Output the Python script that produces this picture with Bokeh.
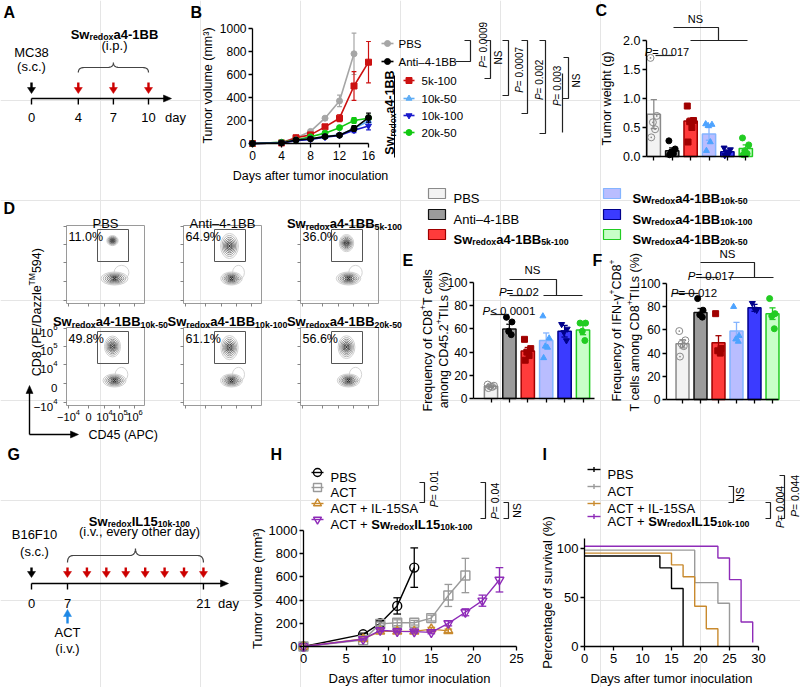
import math
from bokeh.plotting import figure
from bokeh.models import Range1d, FixedTicker, NumeralTickFormatter, LinearAxis
from bokeh.core.properties import value
from bokeh.embed import file_html
from bokeh.resources import INLINE

FONT = "Liberation Sans"
W, H = 800, 687

# ------------------------------------------------------------------ data
GROUPS = ["PBS", "Anti–4-1BB", "5k-100", "10k-50", "10k-100", "20k-50"]

A_ticks = [0, 4, 7, 10]
A_inoc = [0]
A_doses = [4, 7, 10]

B_days = [0, 4, 6, 8, 10, 12, 14, 16]
B_pbs = [0, 10, 50, 105, 220, 370, 780]
B_pbs_err = [0, 3, 8, 10, 15, 50, 180]
B_anti = [0, 5, 30, 40, 60, 72, 130, 225]
B_anti_err = [0, 2, 5, 5, 8, 10, 25, 40]
B_5k100 = [0, 5, 50, 75, 145, 220, 500, 707]
B_5k100_err = [0, 2, 6, 10, 12, 30, 125, 180]
B_10k50 = [0, 5, 30, 40, 60, 75, 130, 196]
B_10k50_err = [0, 2, 5, 5, 8, 10, 20, 30]
B_10k100 = [0, 5, 25, 35, 55, 70, 115, 153]
B_10k100_err = [0, 2, 4, 5, 8, 8, 20, 35]
B_20k50 = [0, 10, 30, 58, 90, 138, 200, 220]
B_20k50_err = [0, 2, 5, 6, 10, 12, 25, 25]
B_pvals = ["P = 0.0009", "NS", "P = 0.0007", "P = 0.002", "P = 0.003"]

C_mean = [0.73, 0.10, 0.61, 0.39, 0.08, 0.14]
C_sem = [0.25, 0.05, 0.05, 0.11, 0.03, 0.06]
C_points = [
    [1.70, 0.70, 0.59, 0.47, 0.33],
    [0.27, 0.13, 0.08, 0.05, 0.03],
    [0.87, 0.62, 0.60, 0.50, 0.25],
    [0.56, 0.55, 0.53, 0.25, 0.10],
    [0.15, 0.12, 0.08, 0.05, 0.02],
    [0.32, 0.20, 0.10, 0.05, 0.03],
]

D_pct = [11.0, 64.9, 36.0, 49.8, 61.1, 56.6]
D_ylab = [("10", "6"), ("10", "5"), ("10", "4"), ("0", ""), ("−10", "4")]
D_xlab = [("−10", "4"), ("0", ""), ("10", "4"), ("10", "5"), ("10", "6")]

E_mean = [10.5, 60, 41, 50, 58, 59]
E_sem = [1, 4, 3, 6.5, 5, 4]
E_points = [
    [12, 11, 10.5, 10, 9],
    [70, 66, 58, 55],
    [51, 43, 40, 37, 33],
    [71, 52, 45, 44, 35],
    [64, 60, 57, 50],
    [65, 65, 58, 50],
]

F_mean = [48, 75, 49, 59, 79, 74]
F_sem = [3.5, 3.5, 6, 7.5, 3, 5]
F_points = [
    [59, 51, 48, 46, 37],
    [87, 77, 73, 71],
    [74, 44, 42, 40],
    [80, 55, 52, 50],
    [83, 78, 77],
    [87, 74, 72, 61],
]

G_ticks = [0, 7, 21]
G_inoc = [0]
G_doses = [7, 9, 11, 13, 15, 17, 19, 21]
G_act = [7]

H_pbs_days = [0, 7, 9, 11, 13]
H_pbs = [0, 105, 200, 350, 680]
H_pbs_err = [0, 10, 20, 70, 170]
H_act_days = [0, 7, 9, 11, 13, 15, 17, 19]
H_act = [0, 55, 195, 205, 205, 245, 440, 612]
H_act_err = [0, 8, 15, 25, 20, 25, 95, 148]
H_il_days = [0, 7, 9, 11, 13, 15, 17]
H_il = [0, 65, 130, 130, 130, 150, 135]
H_il_err = [0, 8, 15, 12, 12, 15, 15]
H_sw_days = [0, 7, 9, 11, 13, 15, 17, 19, 21, 23]
H_sw = [0, 63, 140, 130, 128, 122, 200, 295, 395, 575]
H_sw_err = [0, 8, 12, 12, 12, 12, 22, 30, 48, 105]

I_pbs_days = [0, 13, 15, 17]
I_pbs = [92, 80, 59, 0]
I_act_days = [0, 19, 23, 25]
I_act = [98, 65, 44, 0]
I_il_days = [0, 15, 17, 19, 21, 23]
I_il = [95, 83, 71, 41, 18, 0]
I_sw_days = [0, 23, 25, 27, 29]
I_sw = [102, 90, 68, 25, 4]

# ------------------------------------------------------------------ styles
FILL = ["#f2f2f2", "#9b9b9b", "#ff3b3b", "#b9bdff", "#3b3bff", "#c8ffc8"]
EDGE = ["#8a8a8a", "#111111", "#a00000", "#84b4ff", "#00008b", "#22cc22"]
PT_COL = ["#8a8a8a", "#000000", "#a00000", "#4da3ff", "#00008b", "#22cc22"]
PT_MK = ["circle_dot", "circle", "square", "triangle", "inverted_triangle", "circle"]
JIT = {5: [-0.18, 0.16, -0.05, 0.07, -0.14], 4: [-0.16, 0.14, -0.04, 0.1], 3: [-0.12, 0.0, 0.12]}
B_COL = ["#a6a6a6", "#000000", "#cc1111", "#5fadf5", "#1a1acc", "#11c811"]
B_MK = ["circle", "circle", "square", "triangle", "inverted_triangle", "circle"]
H_COL = ["#000000", "#9a9a9a", "#c98a2e", "#8e2bb8"]
H_MK = ["circle", "square", "triangle", "inverted_triangle"]

REG = {c: 556 for c in "0123456789"}
REG.update({' ': 278, '%': 889, '(': 333, ')': 333, '+': 584, ',': 278, '-': 333, '.': 278,
            '/': 278, '<': 584, '=': 584, '–': 556, '−': 584, 'γ': 500,
            'A': 667, 'B': 667, 'C': 722, 'D': 722, 'E': 667, 'F': 611, 'G': 778, 'H': 722,
            'I': 278, 'L': 556, 'M': 833, 'N': 722, 'O': 778, 'P': 667, 'S': 667, 'T': 611,
            'Z': 611, 'a': 556, 'b': 556, 'c': 500, 'd': 556, 'e': 556, 'f': 278, 'g': 556,
            'h': 556, 'i': 222, 'k': 500, 'l': 222, 'm': 833, 'n': 556, 'o': 556, 'p': 556,
            'q': 556, 'r': 333, 's': 500, 't': 278, 'u': 556, 'v': 500, 'w': 722, 'x': 500,
            'y': 500, 'z': 500})
BLD = dict(REG)
BLD.update({'A': 722, 'B': 722, 'C': 722, 'I': 278, 'L': 611, 'S': 667, 'T': 611, 'a': 556,
            'd': 611, 'e': 556, 'k': 556, 'o': 611, 'r': 389, 'w': 778, 'x': 556, 'y': 556})


def tw(s, size, bold=False):
    t = BLD if bold else REG
    return sum(t.get(c, 556) for c in s) * size / 1000.0


SW = [("Sw", True, "n"), ("redox", True, "sub")]
SWA = SW + [("a4-1BB", True, "n")]

# ------------------------------------------------------------------ one canvas, ref-pixel default ranges
p = figure(width=W, height=H, x_range=Range1d(0, W), y_range=Range1d(H, 0),
           min_border=0, x_axis_location=None, y_axis_location=None,
           output_backend="svg", toolbar_location=None, tools="", title=None)
p.outline_line_color = None
p.background_fill_color = "white"

XR, YR = {}, {}


def chart(name, pxa, pxb, xa, xb, pya, pyb, ya, yb):
    kx = (xb - xa) / (pxb - pxa)
    ky = (yb - ya) / (pyb - pya)
    XR[name] = Range1d(xa - pxa * kx, xa + (W - pxa) * kx)
    YR[name] = Range1d(ya + (H - pya) * ky, ya - pya * ky)
    return dict(x_range_name=name, y_range_name=name)


def axis(name, side, ticks, bounds, fixed, fs=12, blank=False, fmt=None, standoff=2):
    ax = LinearAxis(x_range_name=name, y_range_name=name, ticker=FixedTicker(ticks=ticks),
                    bounds=bounds, fixed_location=fixed)
    ax.axis_line_color = "#000000"
    ax.axis_line_width = 1.3
    ax.major_tick_line_color = "#000000"
    ax.major_tick_line_width = 1.3
    ax.major_tick_out = 4
    ax.major_tick_in = 0
    ax.minor_tick_line_color = None
    ax.major_label_text_font = FONT
    ax.major_label_text_font_size = f"{fs}px"
    ax.major_label_text_color = "#000000"
    ax.major_label_standoff = standoff
    if blank:
        ax.major_label_overrides = {t: "" for t in ticks}
    if fmt is not None:
        ax.formatter = fmt
    p.add_layout(ax, side)


def txt(px, py, s, size=12, bold=False, italic=False, color="#000000", align="center", angle=0.0):
    style = "bold" if bold else ("italic" if italic else "normal")
    p.text(x=[px], y=[py], text=[s], text_font=value(FONT), text_font_size=f"{size}px",
           text_font_style=style, text_color=color, text_align=align, text_baseline="middle",
           angle=angle, level="annotation")


def rich(px, py, segs, size=12, align="center", angle=0.0, color="#000000"):
    items = []
    tot = 0.0
    for s, b, k in segs:
        fs = size * 0.68 if k in ("sub", "sup") else size
        items.append((s, b, k, fs, tot))
        tot += tw(s, fs, b)
    start = {"left": 0.0, "center": -tot / 2.0, "right": -tot}[align]
    ca, sa = math.cos(angle), math.sin(angle)
    xo, yo, tx, fsz, fst = [], [], [], [], []
    for s, b, k, fs, adv in items:
        d = start + adv
        sh = 0.35 * size + (0.24 * size if k == "sub" else (-0.40 * size if k == "sup" else 0.0))
        xo.append(d * ca + sh * sa)
        yo.append(-d * sa + sh * ca)
        tx.append(s)
        fsz.append(f"{fs:.1f}px")
        fst.append("bold" if b else ("italic" if k == "it" else "normal"))
    n = len(tx)
    p.text(x=[px] * n, y=[py] * n, text=tx, x_offset=xo, y_offset=yo,
           text_font=value(FONT), text_font_size=fsz, text_font_style=fst,
           text_color=color, text_align="left", text_baseline="alphabetic",
           angle=angle, level="annotation")


def ptxt(px, py, s, size=11, angle=0.0):
    if s.startswith("P"):
        rich(px, py, [("P", False, "it"), (s[1:], False, "n")], size, angle=angle)
    else:
        txt(px, py, s, size, angle=angle)


def lines(polys, color="#222222", width=1.2):
    p.multi_line(xs=[[a for a, b in pl] for pl in polys], ys=[[b for a, b in pl] for pl in polys],
                 line_color=color, line_width=width, level="annotation")


def tri(pts, color):
    p.patch(x=[a for a, b in pts], y=[b for a, b in pts], fill_color=color,
            line_color=color, line_width=0.5, level="annotation")


def brace(x0, x1, ytip, yend, color="#444444"):
    xm = (x0 + x1) / 2.0
    ym = (ytip + yend) / 2.0
    r = 6.0

    def qb(p0, c, p1, n=8):
        out = []
        for i in range(n + 1):
            t = i / n
            out.append(((1 - t) ** 2 * p0[0] + 2 * (1 - t) * t * c[0] + t * t * p1[0],
                        (1 - t) ** 2 * p0[1] + 2 * (1 - t) * t * c[1] + t * t * p1[1]))
        return out
    pts = (qb((x0, yend), (x0, ym), (x0 + r, ym)) + qb((xm - r, ym), (xm, ym), (xm, ytip)) +
           qb((xm, ytip), (xm, ym), (xm + r, ym)) + qb((x1 - r, ym), (x1, ym), (x1, yend)))
    lines([pts], color, 1.2)


def down_arrows(xs, ytop, ybot, color):
    for x in xs:
        lines([[(x, ytop), (x, ybot - 5)]], color, 2.4)
        tri([(x - 4, ybot - 6), (x + 4, ybot - 6), (x, ybot)], color)


def bar_panel(r, means, sems, pts, width=0.72, psize=6, cap=0.17):
    xs = list(range(len(means)))
    p.vbar(x=xs, top=means, bottom=0, width=width, fill_color=FILL, line_color=EDGE,
           line_width=1.5, **r)
    for i, m in enumerate(means):
        s = sems[i]
        p.segment(x0=[i, i - cap, i - cap], y0=[m - s, m + s, m - s],
                  x1=[i, i + cap, i + cap], y1=[m + s, m + s, m - s],
                  line_color=EDGE[i], line_width=1.3, **r)
        js = JIT[len(pts[i])]
        xp = [i + j for j in js]
        if PT_MK[i] == "circle_dot":
            p.scatter(xp, pts[i], marker="circle_dot", size=psize + 1, fill_color=None,
                      line_color=PT_COL[i], line_width=1.0, **r)
        else:
            p.scatter(xp, pts[i], marker=PT_MK[i], size=psize, fill_color=PT_COL[i],
                      line_color=PT_COL[i], **r)


def err_line(r, d, v, e, c, cap, lw=1.3):
    ed = [(dd, vv, ee) for dd, vv, ee in zip(d, v, e) if ee > 0]
    xs = [a for a, _, _ in ed]
    lo = [b - q for _, b, q in ed]
    hi = [b + q for _, b, q in ed]
    p.segment(xs, lo, xs, hi, line_color=c, line_width=lw, **r)
    p.segment([a - cap for a in xs], hi, [a + cap for a in xs], hi, line_color=c, line_width=lw, **r)
    p.segment([a - cap for a in xs], lo, [a + cap for a in xs], lo, line_color=c, line_width=lw, **r)


# ------------------------------------------------------------------ A (schematic)
txt(3, 12, "A", 16, bold=True, align="left")
rich(114, 29, SWA, 13)
txt(114, 45, "(i.p.)", 13)
txt(31, 52, "MC38", 13)
txt(31, 66, "(s.c.)", 13)


def apos(d):
    return 31 + 11.7 * d


brace(apos(4), apos(10), 62, 72)
down_arrows([apos(d) for d in A_inoc], 82, 93, "#000000")
down_arrows([apos(d) for d in A_doses], 82, 93, "#cc0000")
lines([[(apos(0), 98), (164, 98)]], "#000000", 1.4)
tri([(163, 94.5), (163, 101.5), (171, 98)], "#000000")
for d in A_ticks:
    lines([[(apos(d), 98), (apos(d), 104)]], "#000000", 1.4)
    txt(apos(d), 117, str(d), 13)
txt(175, 117, "day", 13)

# ------------------------------------------------------------------ B
rB = chart("B", 252, 368, 0, 16, 143, 28, 0, 1000)
axis("B", "below", [0, 4, 8, 12, 16], (0, 16), 0, fs=12, standoff=3)
axis("B", "left", [0, 200, 400, 600, 800, 1000], (0, 1000), 0, fs=12)
txt(190, 12, "B", 16, bold=True, align="left")
txt(310, 175, "Days after tumor inoculation", 12.5)
txt(207, 85, "Tumor volume (mm³)", 12.5, angle=math.pi / 2)

B_vals = [B_pbs, B_anti, B_5k100, B_10k50, B_10k100, B_20k50]
B_errs = [B_pbs_err, B_anti_err, B_5k100_err, B_10k50_err, B_10k100_err, B_20k50_err]
for i in [0, 2, 5, 3, 4, 1]:
    v, e = B_vals[i], B_errs[i]
    d = B_days[:len(v)]
    c = B_COL[i]
    err_line(rB, d, v, e, c, 0.33, 1.2)
    p.line(d, v, line_color=c, line_width=1.6, **rB)
    p.scatter(d, v, marker=B_MK[i], size=6, fill_color=c, line_color=c, **rB)

B_LEG_Y = [43, 61, 80, 98, 115, 132]
for i in range(6):
    if i < 2:
        x0, x1, xt = 381, 393, 398
    else:
        x0, x1, xt = 403, 414, 421
    y = B_LEG_Y[i]
    lines([[(x0, y), (x1, y)]], B_COL[i], 1.6)
    p.scatter([(x0 + x1) / 2], [y], marker=B_MK[i], size=6, fill_color=B_COL[i],
              line_color=B_COL[i], level="annotation")
    txt(xt, y, GROUPS[i], 11.5, align="left")
rich(385, 112, SWA, 12.5, angle=math.pi / 2)
lines([[(394, 75), (394, 157)]], "#000000", 1.0)

B_BR_X = [470, 490, 508, 527, 545]
B_BR_BOT = [61, 78, 95, 113, 133]
B_BR_TICK = [15, 6, 6, 6, 6]
B_BR_TXT = [(479, 43), (498, 57), (515, 68), (535, 78), (553, 84)]
for k in range(5):
    x = B_BR_X[k]
    lines([[(x - 6, 40), (x, 40), (x, B_BR_BOT[k]), (x - B_BR_TICK[k], B_BR_BOT[k])]])
    ptxt(B_BR_TXT[k][0], B_BR_TXT[k][1], B_pvals[k], 10, angle=math.pi / 2)
lines([[(562, 73), (562, 132)], [(563, 57), (568, 57), (568, 98), (562, 98)]])
ptxt(576, 80, "NS", 10, angle=math.pi / 2)

# ------------------------------------------------------------------ C
rC = chart("C", 653.3, 745.3, 0, 5, 156, 40, 0, 2)
axis("C", "below", list(range(6)), (-0.397, 5.15), 0, blank=True)
axis("C", "left", [0, 0.5, 1.0, 1.5, 2.0], (0, 2), -0.397, fs=12.5, fmt=NumeralTickFormatter(format="0.0"))
txt(595, 10, "C", 16, bold=True, align="left")
txt(606, 98, "Tumor weight (g)", 12.5, angle=math.pi / 2)
bar_panel(rC, C_mean, C_sem, C_points)
ptxt(668, 48, "P = 0.017", 11)
lines([[(655, 55), (673, 55)]])
txt(695, 18, "NS", 11)
lines([[(673, 27), (718, 27), (718, 40)], [(690, 40), (747, 40)]])

# ------------------------------------------------------------------ D (flow plots)
txt(3, 208, "D", 16, bold=True, align="left")
D_LEFT = [66, 183, 300]
D_TOP = [225, 327]
D_TITLE_Y = [218.5, 316.5]
D_TITLES = [[("PBS", False, "n")], [("Anti–4-1BB", False, "n")],
            SWA + [("5k-100", True, "sub")], SWA + [("10k-50", True, "sub")],
            SWA + [("10k-100", True, "sub")], SWA + [("20k-50", True, "sub")]]
D_YT = [1, 19, 37, 56, 75]
D_XT = [2, 22, 38, 53, 68]
LEVELS = [1.0, 0.84, 0.69, 0.55, 0.42, 0.30, 0.19]
LCOL = ["#cfcfcf", "#b3b3b3", "#989898", "#7c7c7c", "#626262", "#4a4a4a", "#333333"]


def blob(cx, cy, w, h):
    n = len(LEVELS)
    p.ellipse(x=[cx] * n, y=[cy] * n, width=[w * s for s in LEVELS], height=[h * s for s in LEVELS],
              fill_color=None, line_color=LCOL, line_width=1.0)
    p.ellipse(x=[cx], y=[cy], width=[w * 0.1], height=[h * 0.1], fill_color="#333333",
              line_color=None)


for i in range(6):
    r, c = divmod(i, 3)
    fx, fy = D_LEFT[c], D_TOP[r]
    p.quad(left=[fx], right=[fx + 78], top=[fy], bottom=[fy + 78], fill_color=None,
           line_color="#9a9a9a", line_width=1.0)
    p.quad(left=[fx + 31], right=[fx + 62], top=[fy + 4], bottom=[fy + 36], fill_color=None,
           line_color="#555555", line_width=1.0)
    pct = D_pct[i]
    lw, lh = 28 - 0.1 * pct, 13
    p.ellipse(x=[fx + 55], y=[fy + 47], width=[lw * 0.55], height=[lh * 1.1], fill_color=None,
              line_color="#cfcfcf", line_width=0.9)
    blob(fx + 48, fy + 53, lw, lh)
    blob(fx + 46, fy + 14 + 0.1 * pct, 10 + 0.12 * pct, 7 + 0.28 * pct)
    txt(fx + 2, fy + 11.5, f"{pct:.1f}%", 12.5, align="left")
    tx = fx + 39 + (5 if i >= 2 else 0)
    rich(tx, D_TITLE_Y[r], D_TITLES[i], 13)
    tk = [[(fx - 3, fy + t), (fx, fy + t)] for t in D_YT] + \
         [[(fx + t, fy + 78), (fx + t, fy + 81)] for t in D_XT]
    lines(tk, "#777777", 0.9)

fx, fy = D_LEFT[0], D_TOP[1]
for t, (b, e) in zip(D_YT, D_ylab):
    segs = [(b, False, "n")] + ([(e, False, "sup")] if e else [])
    rich(57, fy + t, segs, 11.5, align="right")
for t, (b, e) in zip(D_XT, D_xlab):
    segs = [(b, False, "n")] + ([(e, False, "sup")] if e else [])
    rich(fx + t, 413, segs, 11, align="center")
rich(32, 310, [("CD8 (PE/Dazzle", False, "n"), ("TM", False, "sup"), (" 594)", False, "n")],
     12.5, angle=math.pi / 2)
lines([[(29, 434), (29, 392)], [(29, 434), (71, 434)]], "#000000", 1.4)
tri([(25.5, 393), (32.5, 393), (29, 385)], "#000000")
tri([(70, 430.5), (70, 437.5), (78, 434)], "#000000")
txt(88, 434, "CD45 (APC)", 12.5, align="left")

# ------------------------------------------------------------------ legend (D/E/F)
LEG_LABELS = [[("PBS", False, "n")], [("Anti–4-1BB", False, "n")],
              SWA + [("5k-100", True, "sub")], SWA + [("10k-50", True, "sub")],
              SWA + [("10k-100", True, "sub")], SWA + [("20k-50", True, "sub")]]
for i in range(6):
    col, r = divmod(i, 3)
    x0 = 428 if col == 0 else 603
    xt = 453 if col == 0 else 632
    y = [193, 214, 234][r]
    p.quad(left=[x0], right=[x0 + 17], top=[y - 5], bottom=[y + 5], fill_color=FILL[i],
           line_color=EDGE[i], line_width=1.2)
    rich(xt, y, LEG_LABELS[i], 13, align="left")

# ------------------------------------------------------------------ E
rE = chart("E", 490.5, 582.5, 0, 5, 398, 282, 0, 100)
axis("E", "below", list(range(6)), (-0.95, 5.62), 0, blank=True)
axis("E", "left", [0, 20, 40, 60, 80, 100], (0, 100), -0.95, fs=12)
bar_panel(rE, E_mean, E_sem, E_points)
txt(402, 260, "E", 16, bold=True, align="left")
rich(423, 338, [("Frequency of CD8", False, "n"), ("+", False, "sup"), (" T cells", False, "n")],
     12.5, angle=math.pi / 2)
rich(439, 338, [("among CD45.2", False, "n"), ("+", False, "sup"), (" TILs (%)", False, "n")],
     12.5, angle=math.pi / 2)
txt(532, 269, "NS", 11.5)
lines([[(509, 279), (556, 279), (556, 295)], [(543, 295), (582, 295)],
       [(509, 295), (530, 295)], [(490, 314), (507, 314)]])
ptxt(520, 287, "P = 0.02", 11.5)
ptxt(510, 306, "P < 0.0001", 11.5)

# ------------------------------------------------------------------ F
rF = chart("F", 682, 772, 0, 5, 399, 283, 0, 100)
axis("F", "below", list(range(6)), (-0.889, 5.333), 0, blank=True)
axis("F", "left", [0, 20, 40, 60, 80, 100], (0, 100), -0.889, fs=12)
bar_panel(rF, F_mean, F_sem, F_points)
txt(592, 260, "F", 16, bold=True, align="left")
rich(612, 330, [("Frequency of IFN-γ", False, "n"), ("+", False, "sup"), ("CD8", False, "n"),
                ("+", False, "sup")], 12.5, angle=math.pi / 2)
rich(630, 330, [("T cells among CD8", False, "n"), ("+", False, "sup"), (" TILs (%)", False, "n")],
     12.5, angle=math.pi / 2)
txt(727, 253, "NS", 11.5)
lines([[(700, 262), (754, 262), (754, 277)], [(728, 277), (773, 277)],
       [(700, 277), (718, 277)], [(672, 293), (698, 293)]])
ptxt(712, 271, "P = 0.017", 11.5)
ptxt(695, 288, "P = 0.012", 11.5)

# ------------------------------------------------------------------ G (schematic)
txt(7, 454, "G", 16, bold=True, align="left")


def gpos(d):
    return 31.0 if d == 0 else 67.0 + (d - 7) * 9.71


rich(139, 516, SW + [("IL15", True, "n"), ("10k-100", True, "sub")], 13)
txt(139, 531, "(i.v., every other day)", 13)
txt(34, 534, "B16F10", 13)
txt(34, 551, "(s.c.)", 13)
brace(gpos(7), gpos(21), 548, 562)
down_arrows([gpos(d) for d in G_inoc], 567, 577, "#000000")
down_arrows([gpos(d) for d in G_doses], 567, 577, "#cc0000")
lines([[(gpos(0), 583), (221, 583)]], "#000000", 1.4)
tri([(220, 579.5), (220, 586.5), (228, 583)], "#000000")
for d in G_ticks:
    lines([[(gpos(d), 583), (gpos(d), 589)]], "#000000", 1.4)
    txt(gpos(d), 603, str(d), 13)
txt(228, 603, "day", 13)
for d in G_act:
    lines([[(gpos(d), 623), (gpos(d), 615)]], "#1e88e5", 2.4)
    tri([(gpos(d) - 4, 616), (gpos(d) + 4, 616), (gpos(d), 609)], "#1e88e5")
    txt(gpos(d), 632, "ACT", 13)
    txt(gpos(d), 648, "(i.v.)", 13)

# ------------------------------------------------------------------ H
rH = chart("H", 303, 516, 0, 25, 646, 530, 0, 1000)
axis("H", "below", [0, 5, 10, 15, 20, 25], (0, 25), 0, fs=13, standoff=3)
axis("H", "left", [0, 200, 400, 600, 800, 1000], (0, 1000), 0, fs=13)
txt(270, 454, "H", 16, bold=True, align="left")
txt(409, 678, "Days after tumor inoculation", 13)
txt(257, 588, "Tumor volume (mm³)", 13, angle=math.pi / 2)
H_series = [(H_pbs_days, H_pbs, H_pbs_err), (H_act_days, H_act, H_act_err),
            (H_il_days, H_il, H_il_err), (H_sw_days, H_sw, H_sw_err)]
for i, (d, v, e) in enumerate(H_series):
    c = H_COL[i]
    err_line(rH, d, v, e, c, 0.45, 1.3)
    p.line(d, v, line_color=c, line_width=1.4, **rH)
    p.scatter(d, v, marker=H_MK[i], size=9, fill_color=None, line_color=c, line_width=1.4, **rH)
H_LEG_Y = [472, 487, 503, 519]
H_LEG = [[("PBS", False, "n")], [("ACT", False, "n")], [("ACT + IL-15SA", False, "n")],
         [("ACT + ", False, "n")] + SW + [("IL15", True, "n"), ("10k-100", True, "sub")]]
for i in range(4):
    y = H_LEG_Y[i]
    lines([[(311, y), (323, y)]], H_COL[i], 1.4)
    p.scatter([317], [y], marker=H_MK[i], size=8, fill_color=None, line_color=H_COL[i],
              line_width=1.4, level="annotation")
    rich(330, y, H_LEG[i], 13, align="left")
lines([[(419, 482), (424, 482), (424, 502), (419, 502)],
       [(480, 482), (485, 482), (485, 518), (480, 518)],
       [(503, 502), (508, 502), (508, 518), (503, 518)]])
ptxt(430, 487, "P = 0.01", 10.5, angle=math.pi / 2)
ptxt(491, 499, "P = 0.04", 10.5, angle=math.pi / 2)
ptxt(516, 510, "NS", 10.5, angle=math.pi / 2)

# ------------------------------------------------------------------ I
rI = chart("I", 584, 758, 0, 30, 646, 547.7, 0, 100)
axis("I", "below", [0, 5, 10, 15, 20, 25, 30], (0, 30), 0, fs=13, standoff=3)
axis("I", "left", [0, 50, 100], (0, 110), 0, fs=13)
txt(542, 454, "I", 16, bold=True, align="left")
txt(671, 678, "Days after tumor inoculation", 13)
txt(547, 592, "Percentage of survival (%)", 13, angle=math.pi / 2)
I_series = [(I_pbs_days, I_pbs), (I_act_days, I_act), (I_il_days, I_il), (I_sw_days, I_sw)]
for i, (d, v) in enumerate(I_series):
    p.step(d, v, mode="after", line_color=H_COL[i], line_width=1.4, **rI)
I_LEG_Y = [469, 486, 503, 516]
for i in range(4):
    y = I_LEG_Y[i]
    lines([[(587, y), (600, y)], [(593.5, y - 2.5), (593.5, y + 2.5)]], H_COL[i], 1.4)
    rich(607, y, H_LEG[i], 13, align="left")
lines([[(728, 486), (733, 486), (733, 502), (728, 502)],
       [(765, 502), (770, 502), (770, 518), (765, 518)],
       [(779, 475), (784, 475), (784, 518), (779, 518)]])
ptxt(739, 494, "NS", 10.5, angle=math.pi / 2)
ptxt(776, 505, "P = 0.004", 10.5, angle=math.pi / 2)
ptxt(791, 494, "P = 0.044", 10.5, angle=math.pi / 2)

p.extra_x_ranges = XR
p.extra_y_ranges = YR

open("out.html", "w").write(file_html(p, INLINE))
